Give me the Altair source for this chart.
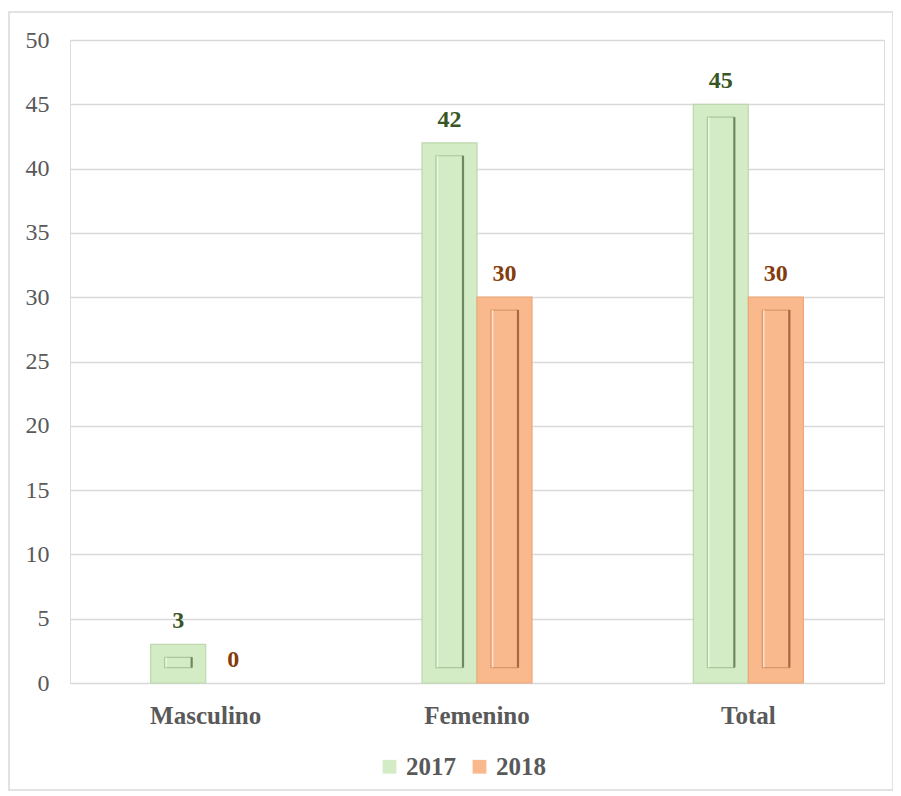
import altair as alt
import pandas as pd

categories = ["Masculino", "Femenino", "Total"]
series = ["2017", "2018"]
values_2017 = [3, 42, 45]
values_2018 = [0, 30, 30]

rows = []
for c, a, b in zip(categories, values_2017, values_2018):
    rows.append({"cat": c, "year": "2017", "value": a})
    rows.append({"cat": c, "year": "2018", "value": b})
df = pd.DataFrame(rows)

FONT = "Liberation Serif, Times New Roman, serif"
fills = {"2017": "#d3ecc5", "2018": "#f9b98c"}
edges = {"2017": "#bcd8ac", "2018": "#eea676"}
inner_edges = {"2017": "#a9c79a", "2018": "#d99668"}
darks = {"2017": "#5b7550", "2018": "#99593a"}
label_cols = {"2017": "#375623", "2018": "#843c0c"}
shift = {"2017": -27.5, "2018": 27.5}
BAR_W = 55
INNER_W = 27

x_main = alt.X("cat:N", sort=categories, title=None,
               scale=alt.Scale(paddingInner=0.594, paddingOuter=0.297),
               axis=alt.Axis(labelFont=FONT, labelFontSize=25, labelFontWeight="bold",
                             labelColor="#595959", labelAngle=0, labelPadding=20,
                             ticks=False, domain=False))
x_plain = alt.X("cat:N", sort=categories)
y_main = alt.Y("value:Q", scale=alt.Scale(domain=[0, 50], nice=False), title=None,
               axis=alt.Axis(values=list(range(0, 51, 5)), labelFont=FONT, labelFontSize=24,
                             labelColor="#595959", labelPadding=21, ticks=False, domain=False,
                             gridColor="#d9d9d9", gridWidth=1.3))

base = alt.Chart(df)

# legend carrier (invisible points)
legend_layer = base.mark_point(opacity=0, size=0).encode(
    x=x_main,
    y=y_main,
    fill=alt.Fill("year:N", sort=series,
                  scale=alt.Scale(domain=series, range=[fills[s] for s in series]),
                  legend=alt.Legend(title=None, orient="none", direction="horizontal",
                                    legendX=307, legendY=714, symbolType="square",
                                    symbolSize=190, symbolStrokeWidth=0, symbolOpacity=1,
                                    labelFont=FONT, labelFontSize=25, labelFontWeight="bold",
                                    labelColor="#595959", columnPadding=11, labelOffset=4)),
)

layers = [legend_layer]
for s in series:
    sub = base.transform_filter(f"datum.year == '{s}' && datum.value > 0")
    layers.append(sub.mark_bar(width=BAR_W, xOffset=shift[s], fill=fills[s],
                               stroke=edges[s], strokeWidth=1.2).encode(
        x=x_plain, y=alt.Y("value:Q")))
    inner = sub.transform_calculate(top="datum.value - 1", bot="1.2")
    layers.append(inner.mark_bar(width=INNER_W, xOffset=shift[s], fill=fills[s],
                                 stroke=inner_edges[s], strokeWidth=1.2).encode(
        x=x_plain, y=alt.Y("top:Q"), y2=alt.Y2("bot:Q")))
    layers.append(inner.mark_rule(xOffset=shift[s] + INNER_W / 2, strokeWidth=2.2,
                                  color=darks[s], opacity=0.8).encode(
        x=x_plain, y=alt.Y("top:Q"), y2=alt.Y2("bot:Q")))
    layers.append(inner.mark_rule(xOffset=shift[s] - INNER_W / 2 + 1.5, strokeWidth=1.5,
                                  color="white", opacity=0.6).encode(
        x=x_plain, y=alt.Y("top:Q"), y2=alt.Y2("bot:Q")))
    lab = base.transform_filter(f"datum.year == '{s}'")
    layers.append(lab.mark_text(baseline="alphabetic", dy=-16, xOffset=shift[s], font=FONT,
                                fontSize=24, fontWeight="bold", color=label_cols[s]).encode(
        x=x_plain, y=alt.Y("value:Q"), text=alt.Text("value:Q")))

border = alt.Chart(pd.DataFrame({"a": [0]})).mark_rect(
    fill=None, stroke="#d9d9d9", strokeWidth=1.5, clip=False
).encode(x=alt.value(-61), x2=alt.value(823), y=alt.value(-28), y2=alt.value(750))
layers.append(border)

chart = alt.layer(*layers).properties(
    width=814, height=643,
    autosize=alt.AutoSizeParams(type="none"),
    padding={"left": 62, "top": 32, "right": 9, "bottom": 110},
).configure_view(stroke=None).configure(background="white")

chart.save("out.html", embed_options={"renderer": "svg", "actions": False})
